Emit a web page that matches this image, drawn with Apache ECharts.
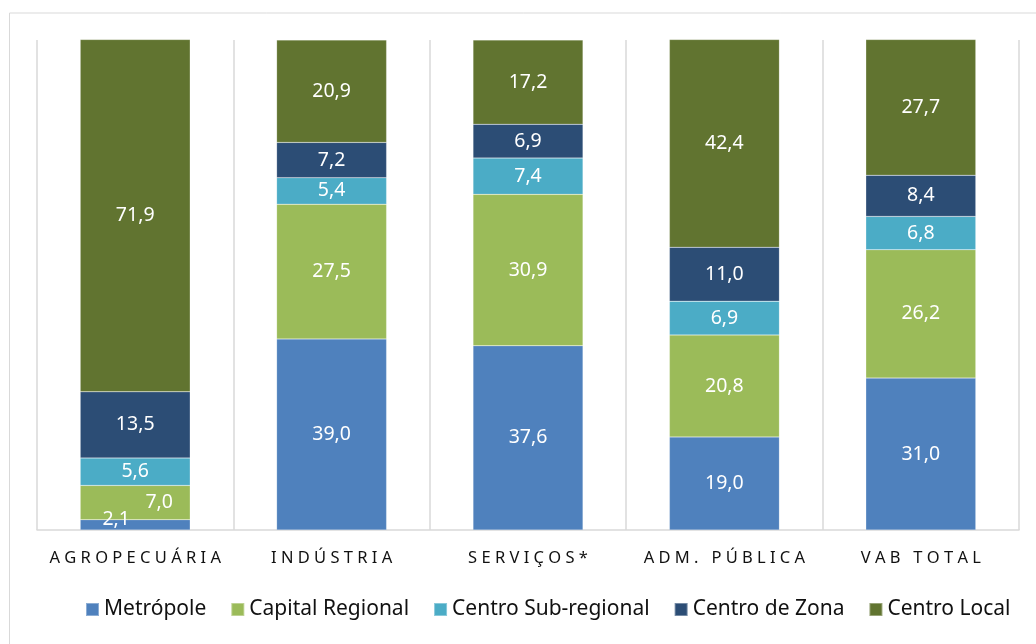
<!DOCTYPE html>
<html>
<head>
<meta charset="utf-8">
<script src="https://cdn.jsdelivr.net/npm/echarts@6/dist/echarts.min.js"></script>
<style>html,body{margin:0;padding:0;background:#fff;}#c{width:1036px;height:644px;}</style>
</head>
<body>
<div id="c"></div>
<script>
const categories = ['AGROPECUÁRIA', 'INDÚSTRIA', 'SERVIÇOS*', 'ADM. PÚBLICA', 'VAB TOTAL'];
const seriesNames = ['Metrópole', 'Capital Regional', 'Centro Sub-regional', 'Centro de Zona', 'Centro Local'];
const metropole = [2.1, 39.0, 37.6, 19.0, 31.0];
const capitalRegional = [7.0, 27.5, 30.9, 20.8, 26.2];
const centroSubRegional = [5.6, 5.4, 7.4, 6.9, 6.8];
const centroDeZona = [13.5, 7.2, 6.9, 11.0, 8.4];
const centroLocal = [71.9, 20.9, 17.2, 42.4, 27.7];

const colors = ['#4F81BD', '#9BBB59', '#4BACC6', '#2C4D75', '#617430'];
const allData = [metropole, capitalRegional, centroSubRegional, centroDeZona, centroLocal];
const fmt = v => v.toFixed(1).replace('.', ',');
// manual label shifts for the tiny Agropecuária segments
const labelShift = { '0-0': [-19, -5], '1-0': [24, 0] };

const chart = echarts.init(document.getElementById('c'));
chart.setOption({
  animation: false,
  backgroundColor: '#fff',
  graphic: [{
    type: 'rect', left: 7, top: 10.5,
    shape: { width: 1040, height: 640 },
    style: { fill: 'none', stroke: '#D9D9D9', lineWidth: 1 }, silent: true, z: -1
  }],
  grid: { left: 37, right: 17, top: 40, bottom: 114, containLabel: false },
  legend: {
    top: 594, left: 80, itemWidth: 13, itemHeight: 13, itemGap: 24,
    icon: 'rect',
    textStyle: { fontFamily: 'Noto Sans', fontSize: 21, color: '#111' },
    data: seriesNames
  },
  xAxis: {
    type: 'category', data: categories,
    axisLine: { lineStyle: { color: '#D9D9D9', width: 1.5 } },
    axisTick: { show: false },
    splitLine: { show: true, interval: 0, lineStyle: { color: '#D9D9D9', width: 1.5 } },
    axisLabel: {
      interval: 0, hideOverlap: false,
      margin: 20, color: '#111', fontFamily: 'Noto Sans', fontSize: 16.5,
      formatter: v => v.split('').join(' ')
    }
  },
  yAxis: { type: 'value', min: 0, max: 100, show: false, splitLine: { show: false } },
  series: allData.map((arr, si) => ({
    name: seriesNames[si], type: 'bar', stack: 'total', barCategoryGap: '44%',
    clip: false,
    itemStyle: { color: colors[si], borderColor: 'rgba(255,255,255,0.35)', borderWidth: 0.5 },
    label: {
      show: true, position: 'inside', color: '#fff', fontFamily: 'Noto Sans', fontSize: 19.5,
      formatter: p => fmt(p.value)
    },
    data: arr.map((v, ci) => {
      const s = labelShift[si + '-' + ci];
      return s ? { value: v, label: { offset: s } } : v;
    })
  }))
});
</script>
</body>
</html>
